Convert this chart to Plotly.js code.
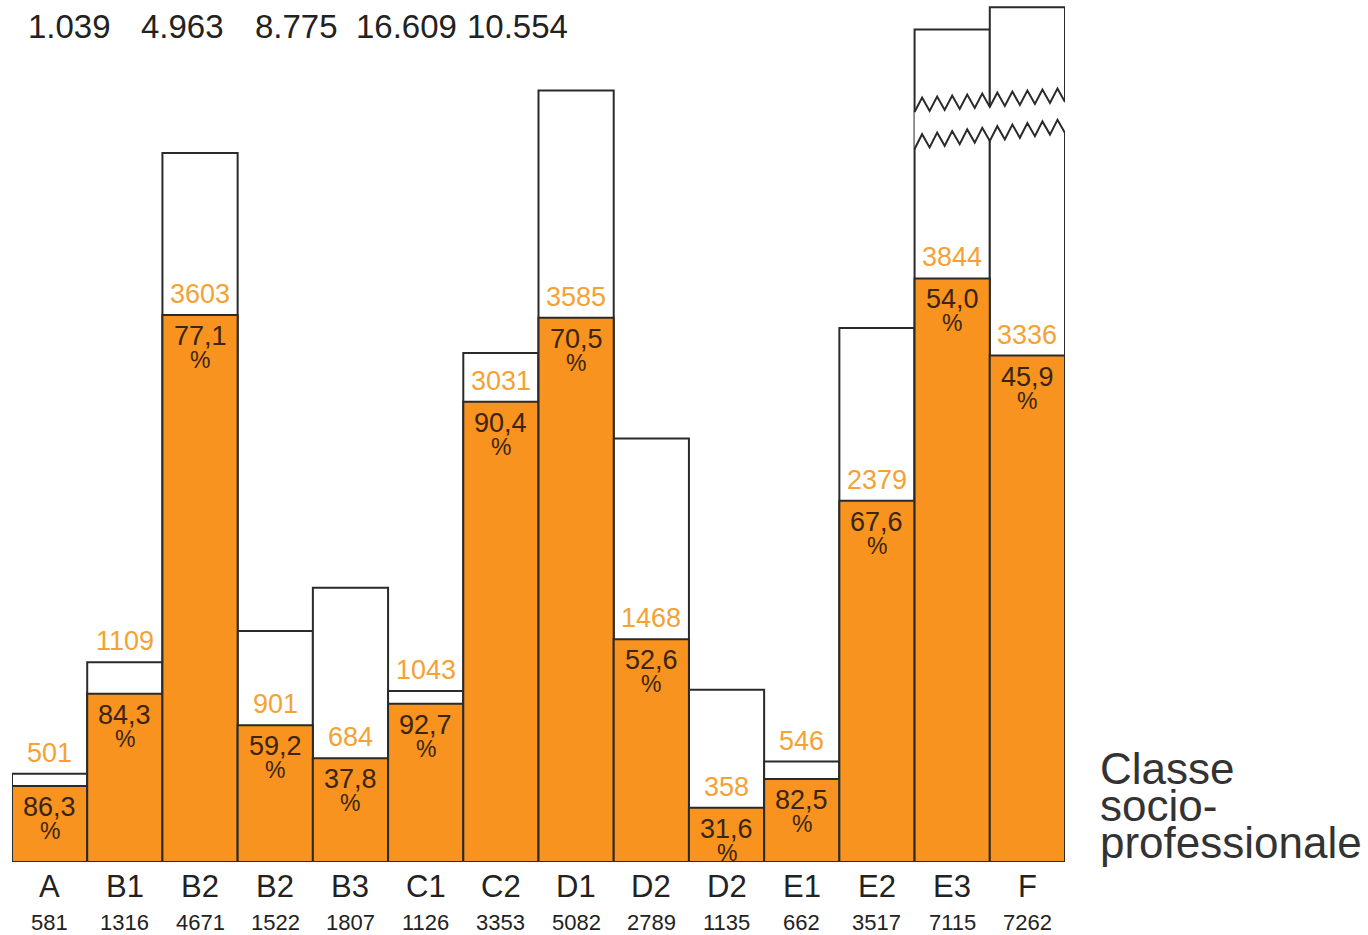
<!DOCTYPE html>
<html>
<head>
<meta charset="utf-8">
<script src="https://cdn.plot.ly/plotly-3.0.1.min.js"></script>
<style>html,body{margin:0;padding:0;background:#fff;}#chart{width:1368px;height:935px;}</style>
</head>
<body>
<div id="chart"></div>
<script>
// ---- data ----
const categories = ['A','B1','B2','B2','B3','C1','C2','D1','D2','D2','E1','E2','E3','F'];
const totals = [581,1316,4671,1522,1807,1126,3353,5082,2789,1135,662,3517,7115,7262];
const orangeVals = [501,1109,3603,901,684,1043,3031,3585,1468,358,546,2379,3844,3336];
const pcts = ['86,3','84,3','77,1','59,2','37,8','92,7','90,4','70,5','52,6','31,6','82,5','67,6','54,0','45,9'];
const topTotals = ['1.039','4.963','8.775','16.609','10.554'];
const axisTitleLines = ['Classe','socio-','professionale'];

// ---- style / layout constants ----
const FONT = 'Liberation Sans, Arial, Helvetica, sans-serif';
const ORANGE = '#F7931E';
const ORANGE_TXT = '#F4A235';
const DARK = '#2a2a2a';
const PCT_TXT = '#3a2412';
const YMAX = 5678;            // top of plot area in data units
const BREAK_AT = 6000;        // values above this are drawn on a broken axis
const CUT = 1632;             // amount removed by the break
const PLOT_H = 862;
const pxPerUnit = PLOT_H / YMAX;

const idx = categories.map((_, i) => i);
const displayTotals = totals.map(v => v > BREAK_AT ? v - CUT : v);

const traces = [
  {type:'bar', x: idx, y: displayTotals, width: 1,
   marker:{color:'#ffffff', line:{color:DARK, width:2}}, hoverinfo:'skip'},
  {type:'bar', x: idx, y: orangeVals, width: 1,
   marker:{color:ORANGE, line:{color:DARK, width:2}}, hoverinfo:'skip'}
];

const annotations = [];
idx.forEach(i => {
  const gapPx = (displayTotals[i] - orangeVals[i]) * pxPerUnit;
  const labelBase = gapPx < 40 ? displayTotals[i] : orangeVals[i];
  annotations.push({x:i, y:labelBase, xref:'x', yref:'y', text: String(orangeVals[i]),
    showarrow:false, yanchor:'middle', yshift: 21,
    font:{family:FONT, size:27, color:ORANGE_TXT}});
  annotations.push({x:i, y:orangeVals[i], xref:'x', yref:'y', text: pcts[i],
    showarrow:false, yanchor:'middle', yshift: -21,
    font:{family:FONT, size:27, color:PCT_TXT}});
  annotations.push({x:i, y:orangeVals[i], xref:'x', yref:'y', text: '%',
    showarrow:false, yanchor:'middle', yshift: -45,
    font:{family:FONT, size:23, color:PCT_TXT}});
  annotations.push({x:i, y:0, xref:'x', yref:'y', text: categories[i],
    showarrow:false, yanchor:'middle', yshift: -24,
    font:{family:FONT, size:31, color:'#222'}});
  annotations.push({x:i, y:0, xref:'x', yref:'y', text: String(totals[i]),
    showarrow:false, yanchor:'middle', yshift: -60,
    font:{family:FONT, size:22, color:'#222'}});
});

const topX = [0.055, 0.162, 0.270, 0.375, 0.480];
topTotals.forEach((t, k) => {
  annotations.push({x: topX[k], y: 0.969, xref:'paper', yref:'paper', text: t,
    showarrow:false, xanchor:'center', yanchor:'middle',
    font:{family:FONT, size:33, color:'#222'}});
});

const titleY = [0.108, 0.065, 0.023];
axisTitleLines.forEach((t, k) => {
  annotations.push({x: 1.031, y: titleY[k], xref:'paper', yref:'paper', text: t,
    showarrow:false, xanchor:'left', yanchor:'middle',
    font:{family:FONT, size:44, color:'#333'}});
});

// ---- zigzag break over the broken bars ----
const brokenIdx = idx.filter(i => totals[i] > BREAK_AT);
const x0 = Math.min(...brokenIdx) - 0.5, x1 = Math.max(...brokenIdx) + 0.5;
const teeth = 5 * brokenIdx.length;
const amp = 7 / pxPerUnit;
function zig(yStart, yEnd) {
  const pts = [];
  for (let k = 0; k <= teeth * 2; k++) {
    const t = k / (teeth * 2);
    const x = x0 + (x1 - x0) * t;
    const base = yStart + (yEnd - yStart) * t;
    pts.push([x, base + (k % 2 === 0 ? -amp : amp)]);
  }
  return pts;
}
const upper = zig((862 - 105) / pxPerUnit, (862 - 95) / pxPerUnit);
const lower = zig((862 - 142) / pxPerUnit, (862 - 126) / pxPerUnit);
const pathOf = pts => pts.map((p, k) => (k ? 'L' : 'M') + p[0].toFixed(4) + ',' + p[1].toFixed(2)).join(' ');
const gapPath = pathOf(upper.concat(lower.slice().reverse())) + ' Z';
const shapes = [
  {type:'path', xref:'x', yref:'y', path: gapPath, fillcolor:'#ffffff', line:{width:0}, layer:'above'},
  {type:'path', xref:'x', yref:'y', path: pathOf(upper), fillcolor:'rgba(0,0,0,0)', line:{color:DARK, width:2}, layer:'above'},
  {type:'path', xref:'x', yref:'y', path: pathOf(lower), fillcolor:'rgba(0,0,0,0)', line:{color:DARK, width:2}, layer:'above'}
];

const layout = {
  width: 1368, height: 935,
  margin: {l:12, r:303, t:0, b:73},
  paper_bgcolor:'#ffffff', plot_bgcolor:'#ffffff',
  barmode:'overlay', bargap:0, showlegend:false,
  xaxis:{range:[-0.5, 13.5], showticklabels:false, showgrid:false, zeroline:false, showline:false, ticks:'', fixedrange:true},
  yaxis:{range:[0, YMAX], visible:false, showgrid:false, zeroline:false, fixedrange:true},
  annotations: annotations,
  shapes: shapes
};

Plotly.newPlot('chart', traces, layout, {displayModeBar:false, staticPlot:true});
</script>
</body>
</html>
